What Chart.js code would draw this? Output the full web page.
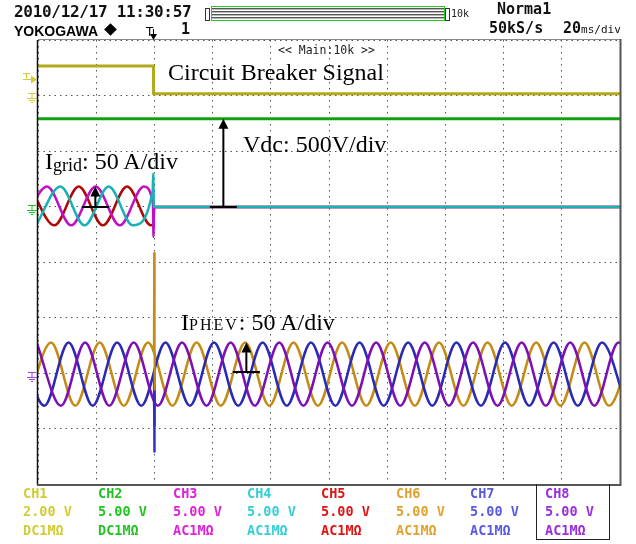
<!DOCTYPE html>
<html>
<head>
<meta charset="utf-8">
<title>Scope capture</title>
<script src="https://cdn.jsdelivr.net/npm/chart.js@4.4.1/dist/chart.umd.min.js"></script>
<style>
  body { margin: 0; background: #fff; }
  #screen { position: relative; width: 636px; height: 544px; overflow: hidden; }
  #screen canvas { position: absolute; left: 0; top: 0; }
  .lbl { position: absolute; white-space: nowrap; line-height: 1; }
  .mono { font-family: "DejaVu Sans Mono", monospace; font-weight: bold; color: #111; }
  .serif { font-family: "Liberation Serif", serif; color: #000; font-size: 24px; }
  .ch { position: absolute; top: 484px; font-family: "DejaVu Sans Mono", monospace; font-weight: bold;
        font-size: 13.5px; line-height: 18.3px; white-space: pre; }
</style>
</head>
<body>
<div id="screen">
  <canvas id="scope" width="636" height="544"></canvas>

  <!-- header -->
  <div class="lbl mono" style="left:14px;top:3.5px;font-size:16px;letter-spacing:-0.3px">2010/12/17 11:30:57</div>
  <div class="lbl" style="left:14px;top:23px;font:bold 14px 'Liberation Sans',sans-serif;color:#000">YOKOGAWA</div>
  <div style="position:absolute;left:106px;top:25px;width:9px;height:9px;background:#000;transform:rotate(45deg)"></div>
  <div class="lbl" style="left:146px;top:25px;font:12px 'DejaVu Sans',sans-serif;color:#000">T</div>
  <div class="lbl mono" style="left:181px;top:22px;font-size:15px">1</div>
  <div style="position:absolute;left:205px;top:8px;width:3px;height:11px;border:1px solid #333"></div>
  <div style="position:absolute;left:211px;top:6px;width:232px;height:13px;border:1px solid #22cc22;
              background:repeating-linear-gradient(#fff 0 1px,#555 1px 2px,#bbb 2px 3px)"></div>
  <div style="position:absolute;left:445px;top:8px;width:3px;height:11px;border:1px solid #333"></div>
  <div class="lbl" style="left:451px;top:8px;font:10px 'DejaVu Sans Mono',monospace;color:#222">10k</div>
  <div class="lbl mono" style="left:497px;top:2px;font-size:15px">Norma1</div>
  <div class="lbl mono" style="left:489px;top:21px;font-size:15px">50kS/s</div>
  <div class="lbl mono" style="left:563px;top:21px;font-size:15px">20<span style="font-size:11px;font-weight:normal">ms/div</span></div>
  <div class="lbl" style="left:278px;top:43px;font:11.5px 'DejaVu Sans Mono',monospace;color:#222">&lt;&lt; Main:10k &gt;&gt;</div>

  <!-- annotations -->
  <div class="lbl serif" style="left:168px;top:59.5px">Circuit Breaker Signal</div>
  <div class="lbl serif" style="left:243px;top:131.5px">Vdc: 500V/div</div>
  <div class="lbl serif" style="left:45px;top:148.5px">I<span style="font-size:18px;position:relative;top:2px">grid</span>: 50 A/div</div>
  <div class="lbl serif" style="left:181px;top:309.5px">I<span style="font-size:16px;letter-spacing:2px">PHEV</span>: 50 A/div</div>

  <!-- channel table -->
  <div class="ch" style="left:23px;color:#d2cc34">CH1
2.00 V
DC1MΩ</div>
  <div class="ch" style="left:98px;color:#22c422">CH2
5.00 V
DC1MΩ</div>
  <div class="ch" style="left:173px;color:#de22d8">CH3
5.00 V
AC1MΩ</div>
  <div class="ch" style="left:247px;color:#34cfd6">CH4
5.00 V
AC1MΩ</div>
  <div class="ch" style="left:321px;color:#e01414">CH5
5.00 V
AC1MΩ</div>
  <div class="ch" style="left:396px;color:#e0a22e">CH6
5.00 V
AC1MΩ</div>
  <div class="ch" style="left:470px;color:#5a5ae0">CH7
5.00 V
AC1MΩ</div>
  <div class="ch" style="left:545px;color:#9a2ede">CH8
5.00 V
AC1MΩ</div>
  <div style="position:absolute;left:536px;top:484px;width:72px;height:55px;border:1.5px solid #222;border-top:none"></div>
</div>

<script>
// time in ms (20 ms/div, 10 div), level in divisions from screen centre

// CH1 circuit breaker signal, CH2 Vdc
const ch1Times = [0, 39.7, 39.7, 200];
const ch1Values = [3.53, 3.53, 3.03, 3.03];
const ch2Times = [0, 200];
const ch2Values = [2.58, 2.58];

const ch3Times = [-5.2, 3.1, 11.4, 19.8, 28.1, 36.4, 39.5, 39.7, 39.9, 200];
const ch3Values = [0.66, 1.36, 0.66, 1.36, 0.66, 1.36, 1.05, 0.45, 0.99, 0.99];
const ch4Times = [-0.7, 7.7, 16.0, 24.3, 32.6, 39.4, 39.6, 39.8, 200];
const ch4Values = [0.66, 1.36, 0.66, 1.36, 0.66, 1.28, 1.59, 0.99, 0.99];
const ch5Times = [-2.7, 5.6, 14.0, 22.3, 30.6, 38.9, 39.7, 39.9, 200];
const ch5Values = [1.36, 0.66, 1.36, 0.66, 1.36, 0.66, 0.70, 0.99, 0.99];

// PHEV currents (peaks / troughs)
const ch6Times = [-3.8, 4.5, 12.8, 21.2, 29.5, 37.8, 46.2, 54.5, 62.8, 71.2, 79.5, 87.8, 96.2,
  104.5, 112.8, 121.2, 129.5, 137.8, 146.2, 154.5, 162.8, 171.2, 179.5, 187.8, 196.2, 204.5];
const ch6Values = [-2.59, -1.45, -2.59, -1.45, -2.59, -1.45, -2.59, -1.45, -2.59, -1.45, -2.59, -1.45, -2.59,
  -1.45, -2.59, -1.45, -2.59, -1.45, -2.59, -1.45, -2.59, -1.45, -2.59, -1.45, -2.59, -1.45];
const ch7Times = [-6.2, 2.2, 10.5, 18.8, 27.2, 35.5, 43.8, 52.2, 60.5, 68.8, 77.2, 85.5, 93.8,
  102.2, 110.5, 118.8, 127.2, 135.5, 143.8, 152.2, 160.5, 168.8, 177.2, 185.5, 193.8, 202.2];
const ch7Values = [-1.45, -2.59, -1.45, -2.59, -1.45, -2.59, -1.45, -2.59, -1.45, -2.59, -1.45, -2.59, -1.45,
  -2.59, -1.45, -2.59, -1.45, -2.59, -1.45, -2.59, -1.45, -2.59, -1.45, -2.59, -1.45, -2.59];
const ch8Times = [-0.5, 7.9, 16.2, 24.5, 32.9, 41.2, 49.5, 57.9, 66.2, 74.5, 82.9, 91.2, 99.5,
  107.9, 116.2, 124.5, 132.9, 141.2, 149.5, 157.9, 166.2, 174.5, 182.9, 191.2, 199.5, 207.9];
const ch8Values = [-1.45, -2.59, -1.45, -2.59, -1.45, -2.59, -1.45, -2.59, -1.45, -2.59, -1.45, -2.59, -1.45,
  -2.59, -1.45, -2.59, -1.45, -2.59, -1.45, -2.59, -1.45, -2.59, -1.45, -2.59, -1.45, -2.59];

// switching transient on the PHEV side
const spike6Times = [39.8, 39.9, 40.0, 40.2];
const spike6Values = [-1.62, 0.16, -2.3, -1.7];
const spike7Times = [39.8, 39.95, 40.1];
const spike7Values = [-1.98, -3.42, -1.9];
const spike8Times = [39.8, 39.95, 40.1, 40.25];
const spike8Values = [-2.5, -2.95, -2.25, -2.6];

// markers on the left edge and scale arrows
const groundLevels = [2.95, 0.94, -2.07];
const groundColors = ['#d2cc34', '#22c422', '#a040e0'];
const triggerLevel = 3.3;
const triggerTime = 39.5;
const scaleArrows = [
  { t: 63.7, from: 0.99, to: 2.58 },
  { t: 19.7, from: 0.99, to: 1.36 },
  { t: 71.6, from: -1.98, to: -1.45 }
];

const pts = (ts, vs) => ts.map((t, i) => ({ x: t, y: vs[i] }));

function trace(times, values, color, width, smooth, order) {
  return {
    data: pts(times, values),
    borderColor: color,
    borderWidth: width,
    cubicInterpolationMode: smooth ? 'monotone' : 'default',
    tension: 0,
    order: order
  };
}

const scopeDecor = {
  id: 'scopeDecor',
  afterDraw(chart) {
    const { ctx, chartArea: a, scales: { x, y } } = chart;
    ctx.save();

    // screen frame
    ctx.strokeStyle = '#888';
    ctx.lineWidth = 1;
    ctx.beginPath();
    ctx.moveTo(a.left, a.top - 0.5); ctx.lineTo(a.right, a.top - 0.5);
    ctx.stroke();
    ctx.strokeStyle = '#111';
    ctx.lineWidth = 1.5;
    ctx.beginPath();
    ctx.moveTo(a.left - 0.5, a.top); ctx.lineTo(a.left - 0.5, a.bottom + 1);
    ctx.stroke();
    ctx.strokeStyle = '#555';
    ctx.lineWidth = 2;
    ctx.beginPath();
    ctx.moveTo(a.right + 0.5, a.top - 1); ctx.lineTo(a.right + 0.5, a.bottom + 1);
    ctx.lineTo(a.left - 1, a.bottom + 1);
    ctx.stroke();

    // ground markers
    groundLevels.forEach((lv, i) => {
      const py = Math.round(y.getPixelForValue(lv)) + 0.5;
      ctx.strokeStyle = groundColors[i];
      ctx.lineWidth = 1;
      ctx.beginPath();
      ctx.moveTo(28, py - 5); ctx.lineTo(36, py - 5);
      ctx.moveTo(32, py - 5); ctx.lineTo(32, py);
      ctx.moveTo(27, py); ctx.lineTo(37, py);
      ctx.moveTo(29, py + 2); ctx.lineTo(35, py + 2);
      ctx.moveTo(31, py + 4); ctx.lineTo(33, py + 4);
      ctx.stroke();
    });

    // trigger level marker (CH1)
    const ty = Math.round(y.getPixelForValue(triggerLevel)) + 0.5;
    ctx.strokeStyle = '#d2cc34';
    ctx.fillStyle = '#d2cc34';
    ctx.lineWidth = 1.2;
    ctx.beginPath();
    ctx.moveTo(23, ty - 6); ctx.lineTo(30, ty - 6);
    ctx.moveTo(26.5, ty - 6); ctx.lineTo(26.5, ty - 1);
    ctx.moveTo(23, ty); ctx.lineTo(33, ty);
    ctx.stroke();
    ctx.beginPath();
    ctx.moveTo(31, ty - 4); ctx.lineTo(37, ty); ctx.lineTo(31, ty + 4);
    ctx.closePath(); ctx.fill();

    // trigger position marker above the screen
    const tx = Math.round(x.getPixelForValue(triggerTime)) + 0.5;
    ctx.strokeStyle = '#000';
    ctx.fillStyle = '#000';
    ctx.lineWidth = 1;
    ctx.beginPath();
    ctx.moveTo(tx, 29); ctx.lineTo(tx, 35);
    ctx.stroke();
    ctx.beginPath();
    ctx.moveTo(tx - 3.5, 34); ctx.lineTo(tx + 3.5, 34); ctx.lineTo(tx, 40);
    ctx.closePath(); ctx.fill();

    // scale arrows
    ctx.strokeStyle = '#000';
    ctx.fillStyle = '#000';
    ctx.lineWidth = 2;
    scaleArrows.forEach(ar => {
      const px = x.getPixelForValue(ar.t);
      const y0 = y.getPixelForValue(ar.from);
      const y1 = y.getPixelForValue(ar.to);
      ctx.beginPath();
      ctx.moveTo(px - 13.5, y0); ctx.lineTo(px + 13.5, y0);
      ctx.moveTo(px, y0); ctx.lineTo(px, y1 + 7);
      ctx.stroke();
      ctx.beginPath();
      ctx.moveTo(px, y1); ctx.lineTo(px - 5, y1 + 10); ctx.lineTo(px + 5, y1 + 10);
      ctx.closePath(); ctx.fill();
    });

    ctx.restore();
  }
};

const gridOpts = { color: '#555', lineWidth: 1, drawTicks: false };

new Chart(document.getElementById('scope'), {
  type: 'line',
  data: {
    datasets: [
      trace(ch1Times, ch1Values, '#b2aa1c', 3, false, 1),
      trace(ch2Times, ch2Values, '#12a012', 3, false, 2),
      trace(ch4Times, ch4Values, '#18b2b4', 2.5, true, 3),
      trace(ch3Times, ch3Values, '#c010c4', 2.5, true, 4),
      trace(ch5Times, ch5Values, '#b00606', 2.5, true, 5),
      trace(spike6Times, spike6Values, '#c48c14', 2, false, 6),
      trace(spike7Times, spike7Values, '#3030c0', 2, false, 7),
      trace(spike8Times, spike8Values, '#7c10b4', 2, false, 8),
      trace(ch8Times, ch8Values, '#7c10b4', 2.5, true, 9),
      trace(ch7Times, ch7Values, '#2a2ab4', 2.5, true, 10),
      trace(ch6Times, ch6Values, '#c48c14', 2.5, true, 11)
    ]
  },
  options: {
    responsive: false,
    animation: false,
    events: [],
    layout: { padding: { left: 38, right: 16, top: 40, bottom: 60 } },
    plugins: { legend: { display: false }, tooltip: { enabled: false } },
    elements: { point: { radius: 0 }, line: { borderJoinStyle: 'round' } },
    scales: {
      x: {
        type: 'linear', min: 0, max: 200,
        ticks: { display: false, stepSize: 20 },
        grid: gridOpts,
        border: { display: false, dash: [1.5, 4.5] }
      },
      y: {
        type: 'linear', min: -4, max: 4,
        ticks: { display: false, stepSize: 1 },
        grid: gridOpts,
        border: { display: false, dash: [1.5, 4] }
      }
    }
  },
  plugins: [scopeDecor]
});
</script>
</body>
</html>
